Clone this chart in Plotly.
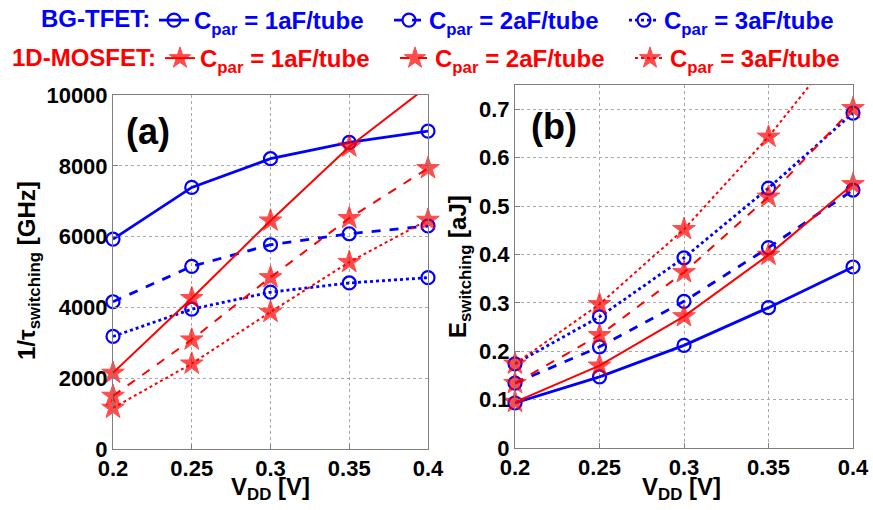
import numpy as np
import plotly.graph_objects as go

W, H = 873, 510
vdd = [0.2, 0.25, 0.3, 0.35, 0.4]

# Panel (a): 1/tau_switching [GHz]
freq_tfet_1 = [5930, 7390, 8200, 8660, 8980]
freq_tfet_2 = [4160, 5160, 5770, 6080, 6300]
freq_tfet_3 = [3180, 3950, 4430, 4690, 4840]
freq_mos_1 = [2150, 4260, 6450, 8540, 10250]
freq_mos_2 = [1500, 3090, 4850, 6520, 7930]
freq_mos_3 = [1160, 2410, 3870, 5280, 6470]

# Panel (b): E_switching [aJ]
en_tfet_1 = [0.093, 0.147, 0.212, 0.290, 0.374]
en_tfet_2 = [0.134, 0.209, 0.303, 0.414, 0.533]
en_tfet_3 = [0.174, 0.271, 0.393, 0.537, 0.692]
en_mos_1 = [0.095, 0.170, 0.272, 0.399, 0.545]
en_mos_2 = [0.134, 0.233, 0.363, 0.519, 0.702]
en_mos_3 = [0.174, 0.297, 0.452, 0.643, 0.861]

labels = ["C<sub>par</sub> = 1aF/tube", "C<sub>par</sub> = 2aF/tube", "C<sub>par</sub> = 3aF/tube"]
group_titles = ["BG-TFET:", "1D-MOSFET:"]
xticks = [0.2, 0.25, 0.3, 0.35, 0.4]
xticklabels = ["0.2", "0.25", "0.3", "0.35", "0.4"]
yticks_a = [0, 2000, 4000, 6000, 8000, 10000]
yticklabels_a = ["0", "2000", "4000", "6000", "8000", "10000"]
yticks_b = [0, 0.1, 0.2, 0.3, 0.4, 0.5, 0.6, 0.7]
yticklabels_b = ["0", "0.1", "0.2", "0.3", "0.4", "0.5", "0.6", "0.7"]
yrange_a = [0, 10000]
yrange_b = [0, 0.75]

BLUE = "#0000ff"
RED = "#ff0000"
FONT = "Liberation Sans, Arial, sans-serif"
dashes = ["solid", "dash", "dot"]

fig = go.Figure()

series = [
    ("tfet", BLUE, [freq_tfet_1, freq_tfet_2, freq_tfet_3], [en_tfet_1, en_tfet_2, en_tfet_3]),
    ("mos", RED, [freq_mos_1, freq_mos_2, freq_mos_3], [en_mos_1, en_mos_2, en_mos_3]),
]

for kind, color, fa, eb in series:
    for i in range(3):
        in_a = max(fa[i]) <= yrange_a[1]
        for panel, ys, yr in (("a", fa[i], yrange_a), ("b", eb[i], yrange_b)):
            ys_arr = np.array(ys, dtype=float)
            inside = ys_arr <= yr[1]
            show = (panel == "a") == in_a
            if kind == "tfet":
                marker = dict(symbol="circle-open", size=13, color=color,
                              line=dict(width=2.2, color=color))
                lw = 2.8
            else:
                marker = dict(symbol="star", size=np.where(inside, 17, 0).tolist(),
                              color=color, line=dict(width=1, color=color))
                lw = 2.0
            fig.add_trace(go.Scatter(
                x=vdd, y=ys, mode="lines+markers",
                line=dict(color=color, width=lw, dash=dashes[i]),
                marker=marker, cliponaxis=False,
                name=labels[i], showlegend=show,
                legend="legend" if kind == "tfet" else "legend2",
                xaxis="x" if panel == "a" else "x2",
                yaxis="y" if panel == "a" else "y2",
            ))

axis_common = dict(
    showline=True, mirror=True, linecolor="#7f7f7f", linewidth=1,
    showgrid=True, gridcolor="#a8a8a8", griddash="dot", gridwidth=1,
    zeroline=False, ticks="inside", ticklen=5, tickcolor="#7f7f7f",
    tickfont=dict(family=FONT, size=22, color="black", weight="bold"),
)

legend_common = dict(
    orientation="h", xanchor="left", yanchor="top",
    bgcolor="rgba(0,0,0,0)", entrywidth=190, traceorder="normal",
    itemwidth=30, tracegroupgap=0,
)

fig.update_layout(
    width=W, height=H,
    margin=dict(l=0, r=0, t=0, b=0, autoexpand=False),
    paper_bgcolor="white", plot_bgcolor="white",
    font=dict(family=FONT),
    xaxis=dict(domain=[113 / W, 428 / W], range=[0.2, 0.4], tickvals=xticks,
               ticktext=xticklabels, anchor="y", **axis_common),
    yaxis=dict(domain=[1 - 449 / H, 1 - 95 / H], range=yrange_a, tickvals=yticks_a,
               ticktext=yticklabels_a, anchor="x", **axis_common),
    xaxis2=dict(domain=[515 / W, 853 / W], range=[0.2, 0.4], tickvals=xticks,
                ticktext=xticklabels, anchor="y2", **axis_common),
    yaxis2=dict(domain=[1 - 448 / H, 1 - 85 / H], range=yrange_b, tickvals=yticks_b,
                ticktext=yticklabels_b, anchor="x2", **axis_common),
    legend=dict(x=154 / W, y=1 + 2 / H,
                font=dict(family=FONT, size=24, color=BLUE, weight="bold"),
                **legend_common),
    legend2=dict(x=160 / W, y=1 - 36 / H,
                 font=dict(family=FONT, size=24, color=RED, weight="bold"),
                 **legend_common),
)

ann_font = dict(family=FONT, size=24, color="black", weight="bold")
annotations = [
    dict(text=group_titles[0], x=152 / W, y=1 - 19 / H, xanchor="right",
         font=dict(family=FONT, size=24, color=BLUE, weight="bold")),
    dict(text=group_titles[1], x=158 / W, y=1 - 57 / H, xanchor="right",
         font=dict(family=FONT, size=24, color=RED, weight="bold")),
    dict(text="(a)", x=148 / W, y=1 - 131 / H, font=dict(family=FONT, size=36, color="black", weight="bold")),
    dict(text="(b)", x=554 / W, y=1 - 126 / H, font=dict(family=FONT, size=36, color="black", weight="bold")),
    dict(text="V<sub>DD</sub> [V]", x=270 / W, y=1 - 488 / H, font=ann_font),
    dict(text="V<sub>DD</sub> [V]", x=681 / W, y=1 - 488 / H, font=ann_font),
    dict(text="1/τ<sub>switching</sub> [GHz]", x=28 / W, y=1 - 271 / H, textangle=-90, font=ann_font),
    dict(text="E<sub>switching</sub> [aJ]", x=459 / W, y=1 - 267 / H, textangle=-90, font=ann_font),
]
for a in annotations:
    a.setdefault("xanchor", "center")
    a.update(xref="paper", yref="paper", showarrow=False, yanchor="middle")
    fig.add_annotation(**a)

fig.write_html("out.html")
